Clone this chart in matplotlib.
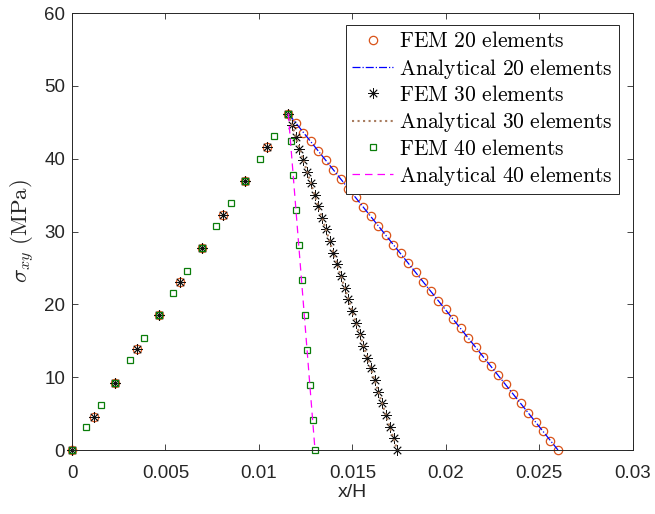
import matplotlib
matplotlib.use('Agg')
import matplotlib.pyplot as plt

# FEM results, 20 elements (loading branch + softening branch)
x_fem20 = [0, 0.00116, 0.00231, 0.00347, 0.00463, 0.00579, 0.00694, 0.00810, 0.00926, 0.01041, 0.01157,
           0.01197, 0.01237, 0.01277, 0.01317, 0.01357, 0.01398, 0.01438, 0.01478, 0.01518, 0.01558,
           0.01598, 0.01638, 0.01678, 0.01718, 0.01758, 0.01799, 0.01839, 0.01879, 0.01919, 0.01959,
           0.01999, 0.02039, 0.02079, 0.02119, 0.02159, 0.02200, 0.02240, 0.02280, 0.02320, 0.02360,
           0.02400, 0.02440, 0.02480, 0.02520, 0.02560, 0.02600]
y_fem20 = [0, 4.6, 9.2, 13.9, 18.5, 23.1, 27.7, 32.3, 37.0, 41.6, 46.2,
           44.9, 43.6, 42.4, 41.1, 39.8, 38.5, 37.2, 35.9, 34.7, 33.4,
           32.1, 30.8, 29.5, 28.2, 27.0, 25.7, 24.4, 23.1, 21.8, 20.5,
           19.3, 18.0, 16.7, 15.4, 14.1, 12.8, 11.6, 10.3, 9.0, 7.7,
           6.4, 5.1, 3.9, 2.6, 1.3, 0.0]

# FEM results, 30 elements
x_fem30 = [0, 0.00116, 0.00231, 0.00347, 0.00463, 0.00579, 0.00694, 0.00810, 0.00926, 0.01041, 0.01157,
           0.01177, 0.01197, 0.01217, 0.01237, 0.01258, 0.01278, 0.01298, 0.01318, 0.01338, 0.01358,
           0.01378, 0.01398, 0.01418, 0.01438, 0.01459, 0.01479, 0.01499, 0.01519, 0.01539, 0.01559,
           0.01579, 0.01599, 0.01619, 0.01639, 0.01660, 0.01680, 0.01700, 0.01720, 0.01740]
y_fem30 = [0, 4.6, 9.2, 13.9, 18.5, 23.1, 27.7, 32.3, 37.0, 41.6, 46.2,
           44.6, 43.0, 41.4, 39.8, 38.2, 36.6, 35.0, 33.5, 31.9, 30.3,
           28.7, 27.1, 25.5, 23.9, 22.3, 20.7, 19.1, 17.5, 15.9, 14.3,
           12.7, 11.2, 9.6, 8.0, 6.4, 4.8, 3.2, 1.6, 0.0]

# FEM results, 40 elements
x_fem40 = [0, 0.00077, 0.00154, 0.00231, 0.00309, 0.00386, 0.00463, 0.00540, 0.00617, 0.00694,
           0.00771, 0.00849, 0.00926, 0.01003, 0.01080, 0.01157,
           0.01169, 0.01184, 0.01199, 0.01214, 0.01229, 0.01244, 0.01259, 0.01273, 0.01288, 0.01300]
y_fem40 = [0, 3.1, 6.2, 9.2, 12.3, 15.4, 18.5, 21.6, 24.6, 27.7,
           30.8, 33.9, 37.0, 40.0, 43.1, 46.2,
           42.5, 37.7, 33.0, 28.2, 23.4, 18.5, 13.7, 8.9, 4.1, 0.0]

# analytical softening branches (peak -> zero stress)
x_ana20 = [0.01157, 0.02600]
x_ana30 = [0.01157, 0.01740]
x_ana40 = [0.01157, 0.01300]
y_ana = [46.2, 0.0]

x_ticks = [0, 0.005, 0.01, 0.015, 0.02, 0.025, 0.03]
x_ticklabels = ['0', '0.005', '0.01', '0.015', '0.02', '0.025', '0.03']
y_ticks = [0, 10, 20, 30, 40, 50, 60]

if __name__ == '__main__':

    plt.rcParams['font.family'] = ['Liberation Sans', 'DejaVu Sans']
    plt.rcParams['mathtext.fontset'] = 'cm'
    grey = '#262626'

    fig = plt.figure(figsize=(6.55, 5.14), dpi=100)
    ax = fig.add_axes([0.110, 0.1245, 0.856, 0.850])

    ax.plot(x_fem20, y_fem20, 'o', mfc='none', mec='#D95319', ms=6.0, mew=0.9, clip_on=False,
            label=r'$\mathrm{FEM\ 20\ elements}$')
    ax.plot(x_ana20, y_ana, '-.', color='#0000ff', lw=0.9, label=r'$\mathrm{Analytical\ 20\ elements}$')
    ax.plot(x_fem30, y_fem30, ls='none', marker=(8, 2, 0), mec='#111111', ms=7.5, mew=0.6, clip_on=False,
            label=r'$\mathrm{FEM\ 30\ elements}$')
    ax.plot(x_ana30, y_ana, ':', color='#a87c5f', lw=1.5, label=r'$\mathrm{Analytical\ 30\ elements}$')
    ax.plot(x_fem40, y_fem40, 's', mfc='none', mec='#0a7d0a', ms=5, mew=0.9, clip_on=False,
            label=r'$\mathrm{FEM\ 40\ elements}$')
    ax.plot(x_ana40, y_ana, '--', color='#ff00ff', lw=0.9, dashes=(6, 4),
            label=r'$\mathrm{Analytical\ 40\ elements}$')

    ax.set_xlim(0, 0.03)
    ax.set_ylim(0, 60)
    ax.set_xticks(x_ticks)
    ax.set_xticklabels(x_ticklabels)
    ax.set_yticks(y_ticks)
    ax.tick_params(direction='in', top=True, right=True, length=4.5, width=0.6,
                   colors=grey, labelsize=13.5, pad=5)
    ax.tick_params(axis='x', pad=11)
    for sp in ax.spines.values():
        sp.set_color(grey)
        sp.set_linewidth(0.7)

    ax.set_xlabel('x/H', fontsize=14, color=grey, labelpad=1)
    ax.set_ylabel(r'$\sigma_{xy}\ \mathrm{(MPa)}$', fontsize=16.5, color=grey, labelpad=5)

    leg = ax.legend(loc='upper right', bbox_to_anchor=(0.975, 0.973), borderaxespad=0,
                    fontsize=15.5, fancybox=False, framealpha=1, edgecolor=grey,
                    handlelength=1.9, handletextpad=0.25, labelspacing=0.2, borderpad=0.3)
    leg.get_frame().set_linewidth(0.7)

    fig.savefig('out.png', dpi=100)
